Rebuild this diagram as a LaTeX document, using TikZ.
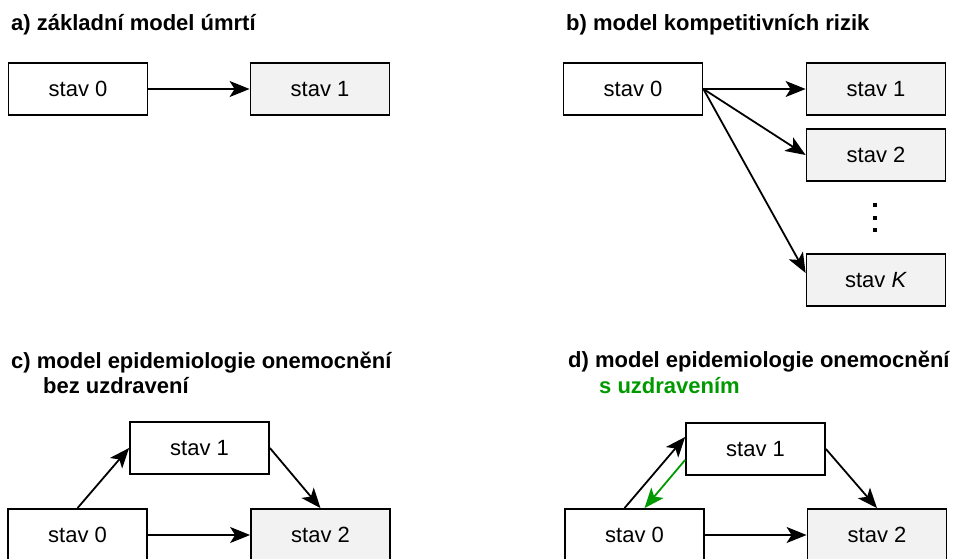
\documentclass[tikz,border=0pt]{standalone}
\usepackage{fontspec}
\setmainfont{Liberation Sans}
\usepackage{tikz}
\usetikzlibrary{arrows.meta,positioning,calc}
\definecolor{StateGray}{HTML}{F2F2F2}
\definecolor{RecovGreen}{HTML}{009900}
\newcommand{\txtfont}{\fontsize{22}{25}\selectfont}

\begin{document}
\begin{tikzpicture}[
    x=1pt, y=-1pt,
    state/.style={
      draw=black,
      fill=#1,
      line width=1.8pt,
      minimum width=139pt,
      minimum height=52pt,
      inner sep=0pt,
      font=\txtfont
    },
    state/.default=white,
    title/.style={
      anchor=base west,
      inner sep=0pt,
      font=\txtfont\bfseries
    },
    arr/.style={
      -{Stealth[length=20pt,width=16pt,inset=5pt]},
      line width=1.8pt,
      color=black
    },
    dot/.style={
      fill=black,
      minimum size=4pt,
      inner sep=0pt
    }
  ]
  \clip (0,0) rectangle (961,559);

  % a) basic model
  \node[title] (tA) at (11,31) {a) základní model úmrtí};
  \node[state] (aS0) at (78,89) {stav 0};
  \node[state=StateGray] (aS1) at (320,89) {stav 1};

  % b) competing risks
  \node[title] (tB) at (566,31) {b) model kompetitivních rizik};
  \node[state] (bS0) at (633,89) {stav 0};
  \node[state=StateGray] (bS1) at (876,89) {stav 1};
  \node[state=StateGray] (bS2) at (876,155) {stav 2};
  \node[state=StateGray] (bSK) at (876,280) {stav \textit{K}};
  \foreach \i/\y in {1/205,2/217.5,3/230}
    \node[dot] (bDot\i) at (874.5,\y) {};

  % c) illness without recovery
  \node[title] (tC1) at (11,368) {c) model epidemiologie onemocnění};
  \node[title] (tC2) at (43,393) {bez uzdravení};
  \node[state] (cS1) at (199.5,448) {stav 1};
  \node[state] (cS0) at (77.5,535) {stav 0};
  \node[state=StateGray] (cS2) at (320.5,535) {stav 2};

  % d) illness with recovery
  \node[title] (tD1) at (568,367) {d) model epidemiologie onemocnění};
  \node[title, text=RecovGreen] (tD2) at (599,393) {s uzdravením};
  \node[state] (dS1) at (755.5,449) {stav 1};
  \node[state] (dS0) at (634.5,535) {stav 0};
  \node[state=StateGray] (dS2) at (877,535) {stav 2};

  % Arrows
  \draw[arr] (aS0) -- (aS1);

  \draw[arr] (bS0.east) -- (bS1.west);
  \draw[arr] (bS0.east) -- (bS2.west);
  \draw[arr] (bS0.east) -- ([yshift=7pt]bSK.west);

  \draw[arr] (cS0.north) -- (cS1.west);
  \draw[arr] (cS1.east) -- (cS2.north);
  \draw[arr] (cS0) -- (cS2);

  \draw[arr] ([xshift=-10pt]dS0.north) -- ([yshift=12pt]dS1.west);
  \draw[arr, color=RecovGreen] ([yshift=-11pt]dS1.west) -- ([xshift=10pt]dS0.north);
  \draw[arr] (dS1.east) -- (dS2.north);
  \draw[arr] (dS0) -- (dS2);

\end{tikzpicture}
\end{document}
